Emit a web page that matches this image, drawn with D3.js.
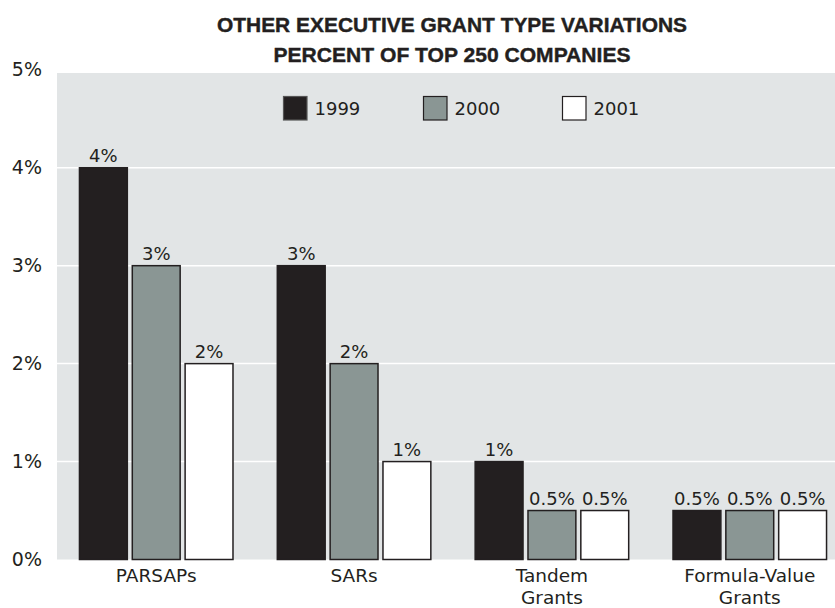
<!DOCTYPE html>
<html>
<head>
<meta charset="utf-8">
<script src="https://cdn.jsdelivr.net/npm/d3@7"></script>
<style>
  html, body { margin: 0; padding: 0; background: #ffffff; }
  svg { display: block; }
  text { font-family: "DejaVu Sans", Verdana, sans-serif; fill: #231f20; }
</style>
</head>
<body>
<svg id="chart" width="835" height="608"></svg>
<script>
// ---- data ----
const titleLines = ["OTHER EXECUTIVE GRANT TYPE VARIATIONS", "PERCENT OF TOP 250 COMPANIES"];
const categories = ["PARSAPs", "SARs", "Tandem Grants", "Formula-Value Grants"];
const seriesNames = ["1999", "2000", "2001"];
const values1999 = [4, 3, 1, 0.5];
const values2000 = [3, 2, 0.5, 0.5];
const values2001 = [2, 1, 0.5, 0.5];
const yTicks = [0, 1, 2, 3, 4, 5];
const colors = ["#231f20", "#8a9694", "#ffffff"];

const seriesValues = [values1999, values2000, values2001];
const rows = categories.map((c, i) => ({
  cat: c,
  vals: seriesNames.map((s, j) => ({ key: s, value: seriesValues[j][i], idx: j }))
}));

const svg = d3.select("#chart");
const plotLeft = 57, plotRight = 835, plotTop = 73, plotBottom = 559.5;

const y = d3.scaleLinear().domain([0, 5]).range([plotBottom, 69.8]);
const x0 = d3.scaleBand().domain(categories).range([57.3, 848.7]).paddingInner(0.224).paddingOuter(0.112);
const x1 = d3.scaleBand().domain(seriesNames).range([0, x0.bandwidth()]).paddingInner(0.094);

// background
svg.append("rect")
  .attr("x", plotLeft).attr("y", plotTop)
  .attr("width", plotRight - plotLeft).attr("height", plotBottom - plotTop)
  .attr("fill", "#e2e5e6");

// gridlines
svg.append("g").selectAll("line")
  .data(yTicks.filter(t => t > 0 && t < 5))
  .join("line")
  .attr("x1", plotLeft).attr("x2", plotRight)
  .attr("y1", d => y(d)).attr("y2", d => y(d))
  .attr("stroke", "#ffffff").attr("stroke-width", 1.5);

// y axis (labels only)
const yAxis = d3.axisLeft(y).tickValues(yTicks).tickFormat(d => d + "%").tickSize(0).tickPadding(0);
const gy = svg.append("g").attr("transform", "translate(42,0)").call(yAxis);
gy.select(".domain").remove();
gy.selectAll("text").style("font-size", "19px").style("font-family", "'DejaVu Sans', sans-serif").attr("fill", "#231f20");

// title
svg.append("g").selectAll("text")
  .data(titleLines)
  .join("text")
  .attr("x", 452)
  .attr("y", (d, i) => 32 + i * 30)
  .attr("text-anchor", "middle")
  .attr("textLength", (d, i) => i === 0 ? 470 : 357)
  .attr("lengthAdjust", "spacingAndGlyphs")
  .style("font-family", "'Liberation Sans Narrow', 'Liberation Sans', Arial, sans-serif")
  .style("font-weight", "bold")
  .style("font-size", "20.5px")
  .style("stroke", "#231f20")
  .style("stroke-width", "0.4px")
  .text(d => d);

// bars
const groups = svg.append("g").selectAll("g")
  .data(rows)
  .join("g")
  .attr("transform", d => `translate(${x0(d.cat)},0)`);

groups.selectAll("rect")
  .data(d => d.vals)
  .join("rect")
  .attr("x", d => x1(d.key))
  .attr("y", d => y(d.value))
  .attr("width", x1.bandwidth())
  .attr("height", d => y(0) - y(d.value))
  .attr("fill", d => colors[d.idx])
  .attr("stroke", "#231f20")
  .attr("stroke-width", 1.5);

groups.selectAll("text.val")
  .data(d => d.vals)
  .join("text")
  .attr("class", "val")
  .attr("x", d => x1(d.key) + x1.bandwidth() / 2)
  .attr("y", d => y(d.value) - 6)
  .attr("text-anchor", "middle")
  .style("font-size", "18px")
  .text(d => d.value + "%");

// category labels
const catLabels = svg.append("g").selectAll("text")
  .data(categories)
  .join("text")
  .attr("x", d => x0(d) + x0.bandwidth() / 2)
  .attr("y", 582)
  .attr("text-anchor", "middle")
  .style("font-size", "18.5px");
catLabels.each(function(d) {
  const words = d.split(" ");
  const t = d3.select(this);
  words.forEach((w, i) => {
    t.append("tspan")
      .attr("x", x0(d) + x0.bandwidth() / 2)
      .attr("dy", i === 0 ? 0 : 21.5)
      .text(w);
  });
});

// legend
const legendX = [283.5, 423.5, 562.5];
const legend = svg.append("g").selectAll("g")
  .data(seriesNames)
  .join("g")
  .attr("transform", (d, i) => `translate(${legendX[i]},96.5)`);
legend.append("rect")
  .attr("width", 23.5).attr("height", 23.5)
  .attr("fill", (d, i) => colors[i])
  .attr("stroke", (d, i) => i === 0 ? "#555" : "#231f20")
  .attr("stroke-width", 1.2);
legend.append("text")
  .attr("x", 31).attr("y", 18)
  .style("font-size", "18px")
  .text(d => d);
</script>
</body>
</html>
